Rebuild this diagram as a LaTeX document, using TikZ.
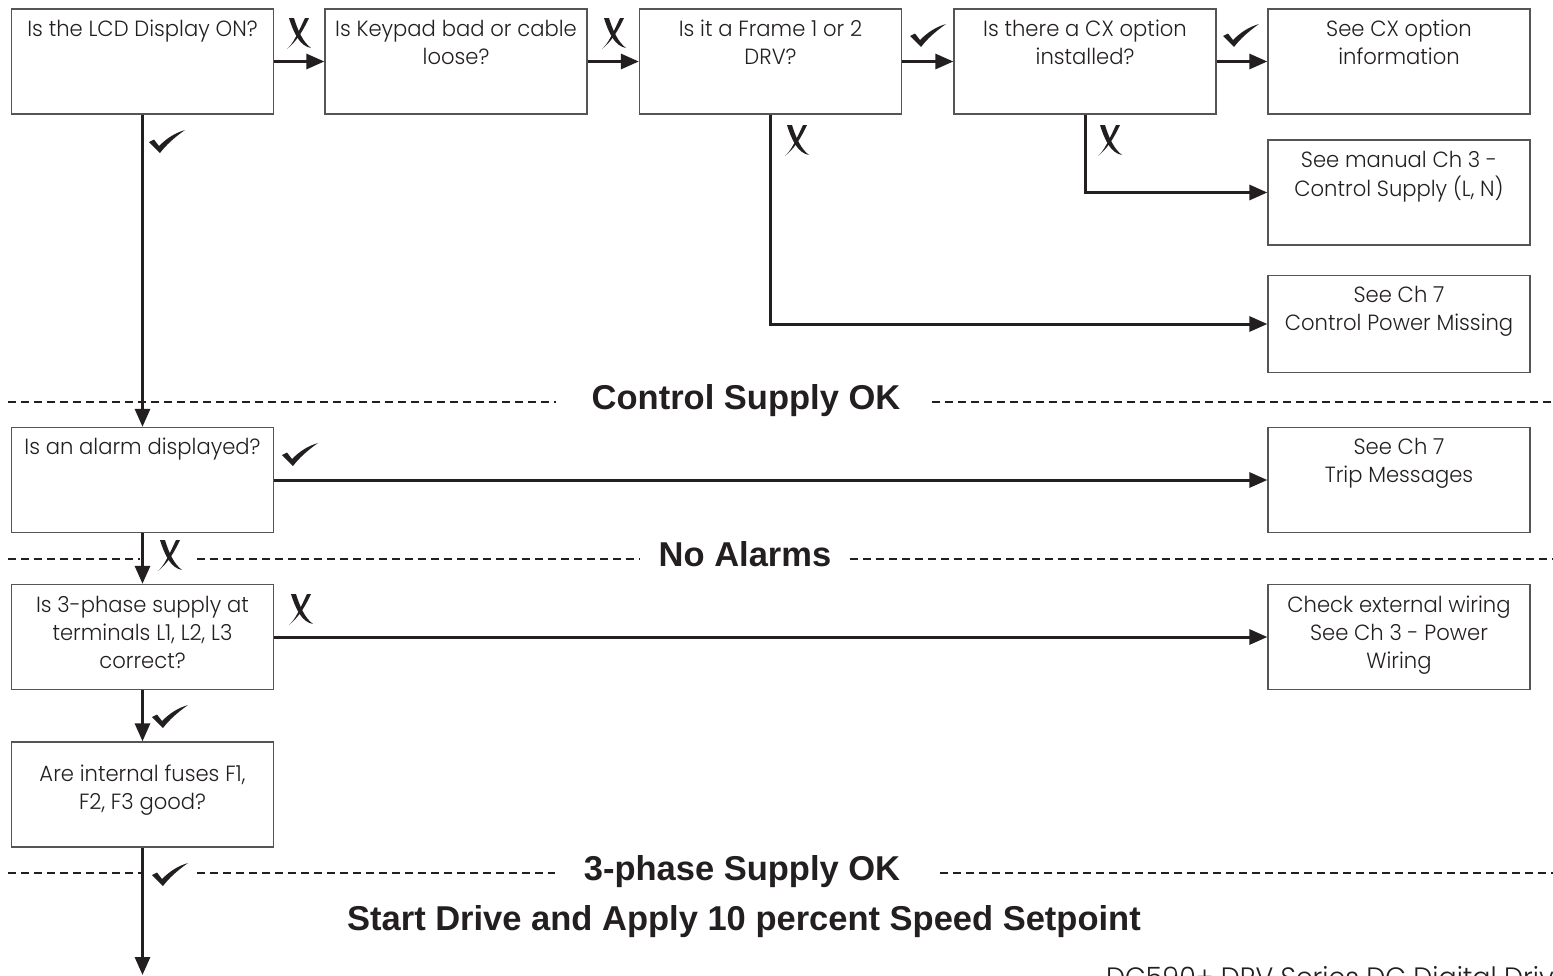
\documentclass[tikz,border=0pt]{standalone}
\usepackage{fontspec}
\IfFontExistsTF{Poppins Light}{\setmainfont{Poppins Light}[FakeStretch=0.96]}{\setmainfont{Poppins}[FakeStretch=0.96]}
\newfontfamily\hfont{Liberation Sans}
\usetikzlibrary{arrows.meta}
\definecolor{boxline}{HTML}{555555}
\definecolor{ink}{HTML}{231F20}
\newcommand{\bt}[1]{\begin{tabular}[t]{@{}c@{}}#1\end{tabular}}
\tikzset{
  box/.style={draw=boxline, line width=1.3pt, minimum width=262pt, minimum height=105pt, inner sep=0pt},
  btxt/.style={anchor=base, inner sep=0pt, text=ink, font=\fontsize{22pt}{28pt}\selectfont},
  conn/.style={line width=3pt, draw=ink, -{Triangle[length=18pt,width=15pt]}},
  sepline/.style={line width=2pt, draw=ink, dash pattern=on 8pt off 5pt},
  head/.style={anchor=base, inner sep=0pt, text=ink, font=\hfont\bfseries\fontsize{34.5pt}{40pt}\selectfont},
  chk/.pic={\fill[ink] (-18,0) -- (-13,-2.5) -- (-8,4) .. controls (0,-4) and (8,-9) .. (18,-12)
        .. controls (8,-5) and (-1,3) .. (-7,11) -- cycle;},
  xmk/.pic={\fill[ink] (-10,-16) -- (-5,-16) .. controls (-1,-3) and (4,8) .. (12,14)
        .. controls (1,12) and (-5,0) .. cycle;
        \fill[ink] (6,-16) -- (10,-16) .. controls (4,-3) and (-3,8) .. (-12,15)
        .. controls (-6,10) and (-1,-1) .. cycle;}
}
\begin{document}
\begin{tikzpicture}[x=1pt,y=-1pt]
\useasboundingbox (0,0) rectangle (1553,975);

% boxes
\node[box] (b1) at (142.5,61.5) {};
\node[box] (b2) at (456,61.5) {};
\node[box] (b3) at (770.5,61.5) {};
\node[box] (b4) at (1085,61.5) {};
\node[box] (b5) at (1399,61.5) {};
\node[box] (b6) at (1399,192.5) {};
\node[box, minimum height=97pt] (b7) at (1399,324) {};
\node[box] (b8) at (142.5,480) {};
\node[box] (b12) at (1399,480) {};
\node[box] (b9) at (142.5,637) {};
\node[box] (b10) at (1399,637) {};
\node[box] (b11) at (142.5,794.5) {};

% box texts
\node[btxt] (t1) at ([yshift=-28pt]b1.north) {\bt{Is the LCD Display ON?}};
\node[btxt] (t2) at ([yshift=-28pt]b2.north) {\bt{Is Keypad bad or cable\\loose?}};
\node[btxt] (t3) at ([yshift=-28pt]b3.north) {\bt{Is it a Frame 1 or 2\\DRV?}};
\node[btxt] (t4) at ([yshift=-28pt]b4.north) {\bt{Is there a CX option\\installed?}};
\node[btxt] (t5) at ([yshift=-28pt]b5.north) {\bt{See CX option\\information}};
\node[btxt] (t6) at ([yshift=-28pt]b6.north) {\bt{See manual Ch 3 -\\Control Supply (L, N)}};
\node[btxt] (t7) at ([yshift=-28pt]b7.north) {\bt{See Ch 7\\Control Power Missing}};
\node[btxt] (t8) at ([yshift=-28pt]b8.north) {\bt{Is an alarm displayed?}};
\node[btxt] (t12) at ([yshift=-28pt]b12.north) {\bt{See Ch 7\\Trip Messages}};
\node[btxt] (t9) at ([yshift=-29pt]b9.north) {\bt{Is 3-phase supply at\\terminals L1, L2, L3\\correct?}};
\node[btxt] (t10) at ([yshift=-29pt]b10.north) {\bt{Check external wiring\\See Ch 3 - Power\\Wiring}};
\node[btxt] (t11) at ([yshift=-40pt]b11.north) {\bt{Are internal fuses F1,\\F2, F3 good?}};

% separator lines
\draw[sepline] (8,402) -- (556,402);
\draw[sepline] (932,402) -- (1553,402);
\draw[sepline] (8,559) -- (140,559);
\draw[sepline] (197,559) -- (640,559);
\draw[sepline] (850,559) -- (1553,559);
\draw[sepline] (8,873) -- (142,873);
\draw[sepline] (197,873) -- (555,873);
\draw[sepline] (940,873) -- (1553,873);

% headings
\node[head] (h1) at (746,409) {Control Supply OK};
\node[head] (h2) at (745,566) {No Alarms};
\node[head] (h3) at (742,880) {3-phase Supply OK};
\node[head] (h4) at (744,930) {Start Drive and Apply 10 percent Speed Setpoint};

% connectors
\coordinate (end) at (142.5,975);
\draw[conn] (b1.east) -- (b2.west);
\draw[conn] (b2.east) -- (b3.west);
\draw[conn] (b3.east) -- (b4.west);
\draw[conn] (b4.east) -- (b5.west);
\draw[conn] (b3.south) |- (b7.west);
\draw[conn] (b4.south) |- (b6.west);
\draw[conn] (b1.south) -- (b8.north);
\draw[conn] (b8.east) -- (b12.west);
\draw[conn] (b8.south) -- (b9.north);
\draw[conn] (b9.east) -- (b10.west);
\draw[conn] (b9.south) -- (b11.north);
\draw[conn] (b11.south) -- (end);

% yes / no marks
\pic at (299,34) {xmk};
\pic at (614,34) {xmk};
\pic at (928,36) {chk};
\pic at (1241,36) {chk};
\pic at (797,141) {xmk};
\pic at (1110,141) {xmk};
\pic at (167,142) {chk};
\pic at (300,455) {chk};
\pic at (170,556) {xmk};
\pic at (301,610) {xmk};
\pic at (170,717) {chk};
\pic at (170,875) {chk};

% footer (cut off at the page edge, as in the original)
\node[anchor=base west, inner sep=0pt, text=ink, font=\fontsize{28pt}{30pt}\selectfont] (foot) at (1106,987) {DC590+ DRV Series DC Digital Drive};
\end{tikzpicture}
\end{document}
